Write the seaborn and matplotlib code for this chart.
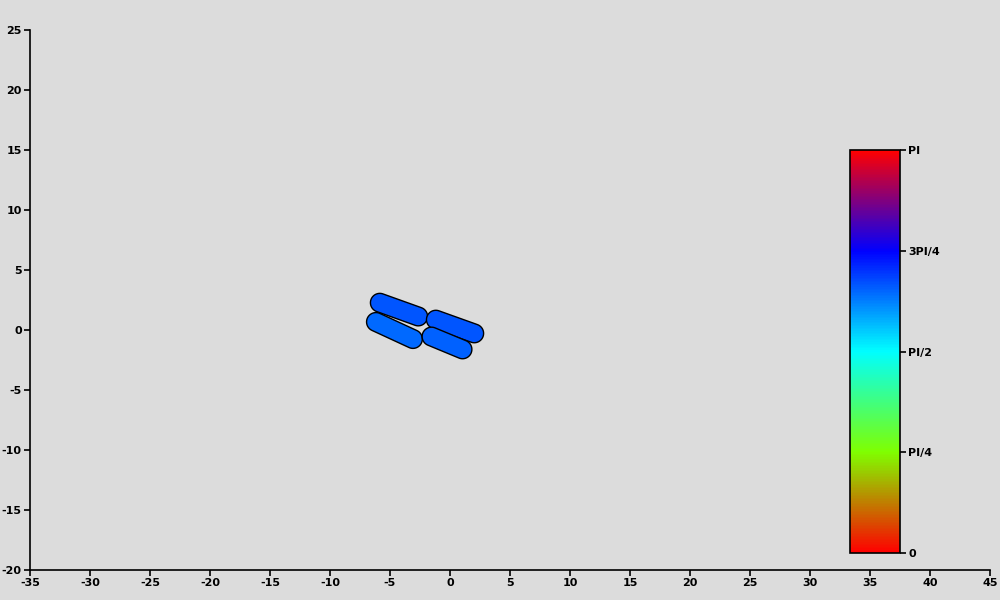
import numpy as np
import matplotlib
matplotlib.use('Agg')
import matplotlib.pyplot as plt
import seaborn as sns
from matplotlib.colors import LinearSegmentedColormap, Normalize
from matplotlib.patches import Polygon
from matplotlib.cm import ScalarMappable

# capsule data (centre, length of the straight part, tilt in degrees, colour value)
cx = [-4.25, -4.63, 0.42, -0.25]
cy = [1.70, -0.04, 0.29, -1.08]
seg_len = [3.4, 3.4, 3.4, 2.8]
tilt_deg = [-19.7, -24.8, -19.7, -22.5]
phase = [0.665 * np.pi, 0.645 * np.pi, 0.665 * np.pi, 0.655 * np.pi]
radius = 0.78

cbar_ticks = [0, np.pi / 4, np.pi / 2, 3 * np.pi / 4, np.pi]
cbar_labels = ['0', 'PI/4', 'PI/2', '3PI/4', 'PI']
cmap_colors = ['#ff0000', '#80ff00', '#00ffff', '#0000ff', '#ff0000']

sns.set_theme(style='ticks')
plt.rcParams['font.family'] = ['DejaVu Sans']
plt.rcParams['font.weight'] = 'bold'
plt.rcParams['font.size'] = 8
plt.rcParams['axes.unicode_minus'] = False

cmap = LinearSegmentedColormap.from_list('phase', cmap_colors)
norm = Normalize(0, np.pi)


def capsule(x0, y0, length, ang, r, n=30):
    a = np.deg2rad(ang)
    ux, uy = np.cos(a), np.sin(a)
    h = length / 2
    # right end semicircle then left end semicircle
    t1 = np.linspace(a - np.pi / 2, a + np.pi / 2, n)
    t2 = np.linspace(a + np.pi / 2, a + 3 * np.pi / 2, n)
    px = np.concatenate([x0 + h * ux + r * np.cos(t1), x0 - h * ux + r * np.cos(t2)])
    py = np.concatenate([y0 + h * uy + r * np.sin(t1), y0 - h * uy + r * np.sin(t2)])
    return np.column_stack([px, py])


fig = plt.figure(figsize=(10, 6), dpi=100, facecolor='#dcdcdc')
ax = fig.add_axes([0.03, 0.05, 0.96, 0.9])
ax.set_facecolor('#dcdcdc')

for i in range(len(cx)):
    poly = Polygon(capsule(cx[i], cy[i], seg_len[i], tilt_deg[i], radius),
                   closed=True, facecolor=cmap(norm(phase[i])), edgecolor='black', linewidth=1.0)
    ax.add_patch(poly)

ax.set_xlim(-35, 45)
ax.set_ylim(-20, 25)
ax.set_xticks(np.arange(-35, 46, 5))
ax.set_yticks(np.arange(-20, 26, 5))
sns.despine(ax=ax)
for s in ['left', 'bottom']:
    ax.spines[s].set_linewidth(1.2)
    ax.spines[s].set_color('black')
ax.tick_params(length=4, width=1.2, colors='black', labelsize=8, pad=2)

cax = fig.add_axes([0.85, 0.0783, 0.05, 0.6717])
cb = fig.colorbar(ScalarMappable(norm=norm, cmap=cmap), cax=cax)
cb.set_ticks(cbar_ticks)
cb.set_ticklabels(cbar_labels)
cb.outline.set_linewidth(1.2)
cb.outline.set_edgecolor('black')
cax.tick_params(length=4, width=1.2, colors='black', labelsize=8, pad=2)

fig.savefig('out.png', dpi=100, facecolor='#dcdcdc')
